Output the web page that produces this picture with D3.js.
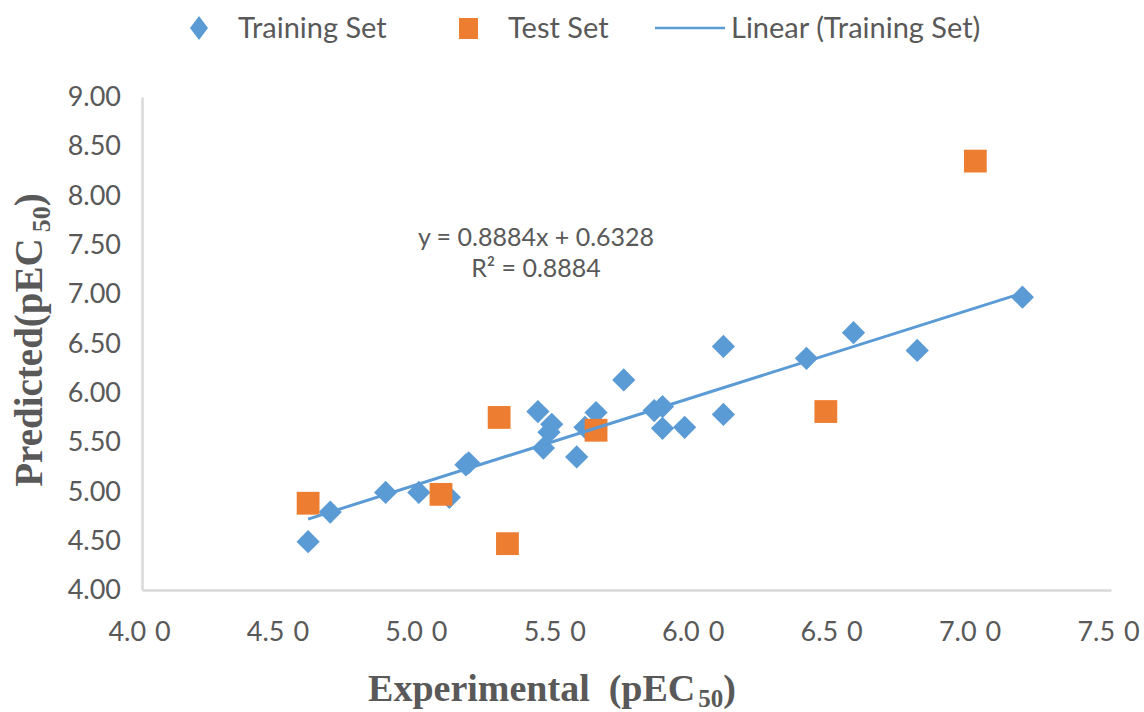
<!DOCTYPE html>
<html><head><meta charset="utf-8">
<script src="https://cdn.jsdelivr.net/npm/d3@7"></script>
<style>
html,body{margin:0;padding:0;background:#fff;}
svg{display:block;}
</style></head>
<body>
<svg id="chart" width="1144" height="712"></svg>
<script>
// ---- data ----
const trainX = [4.60,4.68,4.88,5.00,5.11,5.17,5.18,5.43,5.48,5.47,5.45,5.57,5.64,5.60,5.74,5.85,5.88,5.88,5.96,6.10,6.10,6.40,6.57,6.80,7.18];
const trainY = [4.49,4.79,4.99,4.99,4.94,5.27,5.29,5.81,5.68,5.60,5.44,5.35,5.80,5.65,6.13,5.82,5.86,5.64,5.65,5.78,6.47,6.35,6.61,6.43,6.97];
const testX = [4.60,5.08,5.29,5.32,5.64,6.47,7.01];
const testY = [4.88,4.97,5.75,4.47,5.62,5.81,8.35];
const fitSlope = 0.8884;
const fitIntercept = 0.6328;
const xTicks = [4.0,4.5,5.0,5.5,6.0,6.5,7.0,7.5];
const xTickLabels = ["4.0 0","4.5 0","5.0 0","5.5 0","6.0 0","6.5 0","7.0 0","7.5 0"];
const yTicks = [4.0,4.5,5.0,5.5,6.0,6.5,7.0,7.5,8.0,8.5,9.0];
const yTickLabels = ["4.00","4.50","5.00","5.50","6.00","6.50","7.00","7.50","8.00","8.50","9.00"];
const legendLabels = ["Training Set","Test Set","Linear (Training Set)"];
const eqLines = ["y = 0.8884x + 0.6328","R² = 0.8884"];

const BLUE = "#5B9BD5", ORANGE = "#ED7D31", AXIS = "#D9D9D9", TXT = "#595959";
const sans = "Lato, 'Open Sans', sans-serif";
const serif = "'Liberation Serif', 'DejaVu Serif', serif";

const svg = d3.select("#chart");
const x = d3.scaleLinear().domain([4,7.5]).range([142,1111]);
const y = d3.scaleLinear().domain([4,9]).range([590,97]);

// axes
const xAxis = svg.append("g").attr("transform","translate(0,590)")
  .call(d3.axisBottom(x).tickValues(xTicks).tickSize(0).tickPadding(32)
    .tickFormat((d,i)=>xTickLabels[i]));
const yAxis = svg.append("g").attr("transform","translate(142,0)")
  .call(d3.axisLeft(y).tickValues(yTicks).tickSize(0).tickPadding(21)
    .tickFormat((d,i)=>yTickLabels[i]));
[xAxis,yAxis].forEach(g=>{
  g.select(".domain").attr("stroke",AXIS).attr("stroke-width",2.5);
  g.selectAll("text").attr("fill",TXT).style("font-family",sans).style("font-size","27px");
});
xAxis.selectAll("text").attr("dx",-3).style("word-spacing","2px");

// markers
const diamondPath = d3.symbol(d3.symbolSquare, 270)();
svg.append("g").selectAll("path").data(trainX).join("path")
  .attr("d", diamondPath)
  .attr("transform",(d,i)=>`translate(${x(d)},${y(trainY[i])}) rotate(45)`)
  .attr("fill",BLUE);
svg.append("g").selectAll("path").data(testX).join("path")
  .attr("d", d3.symbol(d3.symbolSquare, 520)())
  .attr("transform",(d,i)=>`translate(${x(d)},${y(testY[i])})`)
  .attr("fill",ORANGE);

// trend line
const xmin = d3.min(trainX), xmax = d3.max(trainX);
const linePts = [xmin,xmax].map(v=>[x(v), y(fitSlope*v+fitIntercept)]);
svg.append("path").attr("d", d3.line()(linePts))
  .attr("stroke",BLUE).attr("stroke-width",3).attr("fill","none");

// equation
svg.append("g").selectAll("text").data(eqLines).join("text")
  .attr("x",536).attr("y",(d,i)=>246+i*31)
  .attr("text-anchor","middle").attr("fill",TXT)
  .style("font-family",sans).style("font-size","25px").text(d=>d);

// legend
const lg = svg.append("g");
lg.append("path").attr("d","M0,-12L9,0L0,12L-9,0Z").attr("transform","translate(199,28)").attr("fill",BLUE);
lg.append("rect").attr("x",459).attr("y",18).attr("width",19).attr("height",21).attr("fill",ORANGE);
lg.append("line").attr("x1",655).attr("x2",725).attr("y1",28).attr("y2",28).attr("stroke",BLUE).attr("stroke-width",2.5);
const legX = [238,508,731];
lg.selectAll("text").data(legendLabels).join("text")
  .attr("x",(d,i)=>legX[i]).attr("y",38)
  .attr("fill",TXT).style("font-family",sans).style("font-size","29px").text(d=>d);

// x title
const xt = svg.append("text").attr("x",552).attr("y",701).attr("text-anchor","middle")
  .attr("fill",TXT).style("font-family",serif).style("font-weight","bold").style("font-size","38px")
  .style("white-space","pre");
xt.append("tspan").text("Experimental\u00A0\u00A0(pEC");
xt.append("tspan").attr("dx",3).attr("dy",6).style("font-size","25px").text("50");
xt.append("tspan").attr("dy",-6).text(")");

// y title
const yt = svg.append("text").attr("transform","translate(42,340) rotate(-90)").attr("text-anchor","middle")
  .attr("fill",TXT).style("font-family",serif).style("font-weight","bold").style("font-size","39px");
yt.append("tspan").text("Predicted(pEC");
yt.append("tspan").attr("dx",6).attr("dy",8).style("font-size","26px").text("50");
yt.append("tspan").attr("dy",-8).text(")");
</script>
</body></html>
